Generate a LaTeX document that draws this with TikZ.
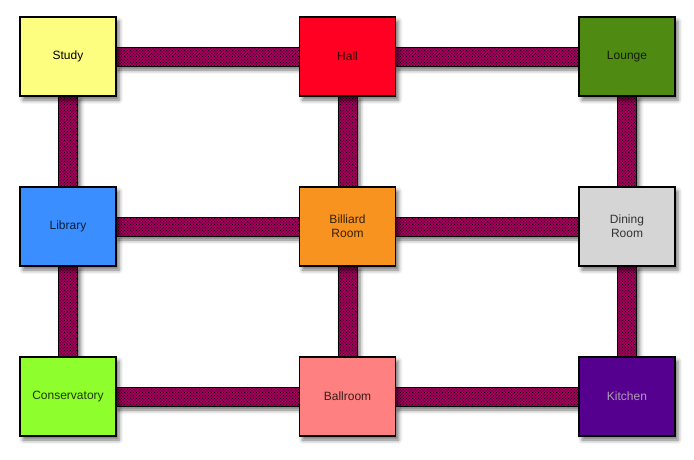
\documentclass[tikz,border=0pt]{standalone}
\usepackage{fontspec}
\setmainfont{Liberation Sans}
\usetikzlibrary{calc,patterns,shadows.blur,backgrounds}

% room fill colours
\definecolor{studyc}{HTML}{FDFE80}
\definecolor{hallc}{HTML}{FF0022}
\definecolor{loungec}{HTML}{4F8A12}
\definecolor{libraryc}{HTML}{3A8EFF}
\definecolor{billiardc}{HTML}{F7931E}
\definecolor{diningc}{HTML}{D5D5D5}
\definecolor{conservc}{HTML}{8EFF2C}
\definecolor{ballroomc}{HTML}{FF8080}
\definecolor{kitchenc}{HTML}{560090}
\definecolor{passagec}{HTML}{A3005C}

\begin{document}
\begin{tikzpicture}[x=1pt,y=-1pt,
  softshadow/.style={blur shadow={shadow xshift=3pt, shadow yshift=-4pt,
      shadow blur radius=4pt, shadow opacity=55}},
  room/.style={draw=black, line width=1.2pt, fill=#1, text=#1!22!black,
      minimum width=96pt, minimum height=79pt, inner sep=0pt, align=center,
      font=\fontsize{12}{14}\selectfont, softshadow},
  passage/.style={draw=black, line width=0.8pt, fill=passagec,
      postaction={pattern=crosshatch dots, pattern color=black}, softshadow}
]
\useasboundingbox (0,0) rectangle (694,460);

% rooms
\node[room=studyc, text=black]     (study)    at (68,56.5)    {Study};
\node[room=hallc]                  (hall)     at (347.5,56.5) {Hall};
\node[room=loungec]                (lounge)   at (627,56.5)   {Lounge};
\node[room=libraryc]               (library)  at (68,226.5)   {Library};
\node[room=billiardc]              (billiard) at (347.5,226.5){Billiard\\Room};
\node[room=diningc, text=black!80] (dining)   at (627,226.5)  {Dining\\Room};
\node[room=conservc]               (conserv)  at (68,396.5)   {Conservatory};
\node[room=ballroomc]              (ballroom) at (347.5,396.5){Ballroom};
\node[room=kitchenc, text=kitchenc!25!gray!60!white] (kitchen) at (627,396.5) {Kitchen};

% passages between neighbouring rooms
\begin{scope}[on background layer]
  \foreach \a/\b in {study/hall, hall/lounge, library/billiard,
                     billiard/dining, conserv/ballroom, ballroom/kitchen}
    \path[passage] ($(\a.east)+(-1,-9.5)$) rectangle ($(\b.west)+(1,9.5)$);
  \foreach \a/\b in {study/library, library/conserv, hall/billiard,
                     billiard/ballroom, lounge/dining, dining/kitchen}
    \path[passage] ($(\a.south)+(-9.5,-1)$) rectangle ($(\b.north)+(9.5,1)$);
\end{scope}
\end{tikzpicture}
\end{document}
